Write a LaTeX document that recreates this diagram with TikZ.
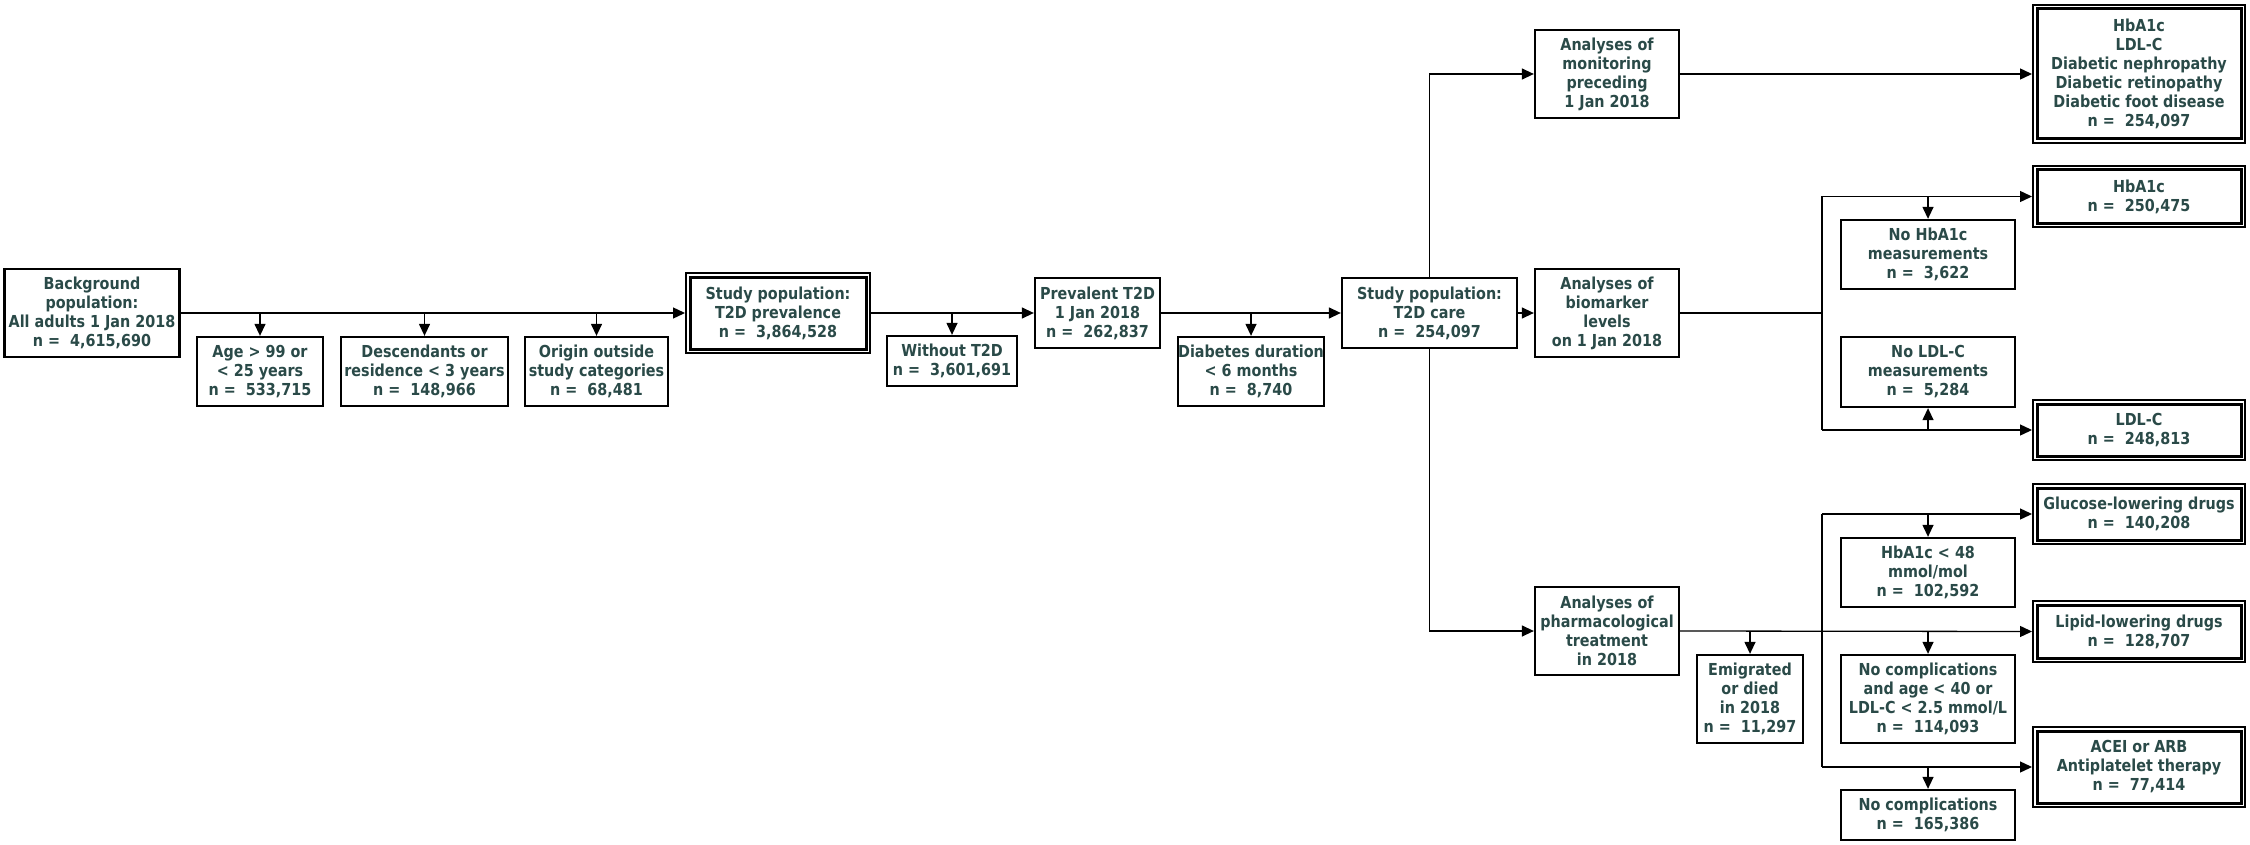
\documentclass[tikz,border=0pt]{standalone}
\usepackage{fontspec}
\setmainfont{DejaVu Sans}[BoldFont={DejaVu Sans Bold},BoldFeatures={FakeStretch=0.87}]
\usetikzlibrary{arrows.meta}
\definecolor{txt}{RGB}{42,74,72}
\begin{document}
\begin{tikzpicture}[x=1pt,y=-1pt,
  box/.style={draw=black,line width=2.3pt,fill=white,align=center,inner sep=0pt,
    font=\fontsize{16.5}{19}\selectfont\bfseries,text=txt},
  dbox/.style={box,line width=2pt},
  conn/.style={line width=1.3pt},
  arr/.style={conn,-{Triangle[length=12pt,width=11pt]}},
  inner/.style={line width=3pt}]
\useasboundingbox (0,0) rectangle (2250,845);
% left chain
\node[box,minimum width=175,minimum height=88] (bg) at (92,313) {Background\\population:\\All adults 1 Jan 2018\\n =\ \ 4,615,690};
\node[box,minimum width=126,minimum height=69] (age) at (260,371.5) {Age > 99 or\\< 25 years\\n =\ \ 533,715};
\node[box,minimum width=167,minimum height=69] (desc) at (424.5,371.5) {Descendants or\\residence < 3 years\\n =\ \ 148,966};
\node[box,minimum width=143,minimum height=69] (orig) at (596.5,371.5) {Origin outside\\study categories\\n =\ \ 68,481};
\node[dbox,minimum width=184,minimum height=80] (sp) at (778,313) {Study population:\\T2D prevalence\\n =\ \ 3,864,528};
\node[box,minimum width=130,minimum height=50] (wo) at (952,361) {Without T2D\\n =\ \ 3,601,691};
\node[box,minimum width=125,minimum height=70] (prev) at (1097.5,313) {Prevalent T2D\\1 Jan 2018\\n =\ \ 262,837};
\node[box,minimum width=146,minimum height=69] (dur) at (1251,371.5) {Diabetes duration\\< 6 months\\n =\ \ 8,740};
\node[box,minimum width=175,minimum height=70] (care) at (1429.5,313) {Study population:\\T2D care\\n =\ \ 254,097};
% analyses
\node[box,minimum width=144,minimum height=88] (mon) at (1607,74) {Analyses of\\monitoring\\preceding\\1 Jan 2018};
\node[box,minimum width=144,minimum height=88] (bio) at (1607,313) {Analyses of\\biomarker\\levels\\on 1 Jan 2018};
\node[box,minimum width=144,minimum height=88] (ph) at (1607,631) {Analyses of\\pharmacological\\treatment\\in 2018};
% right column
\node[dbox,minimum width=212,minimum height=138] (top) at (2139,74) {HbA1c\\LDL-C\\Diabetic nephropathy\\Diabetic retinopathy\\Diabetic foot disease\\n =\ \ 254,097};
\node[dbox,minimum width=212,minimum height=61] (hba) at (2139,196.5) {HbA1c\\n =\ \ 250,475};
\node[box,minimum width=174,minimum height=69] (nohba) at (1928,254.5) {No HbA1c\\measurements\\n =\ \ 3,622};
\node[box,minimum width=174,minimum height=70] (noldl) at (1928,372) {No LDL-C\\measurements\\n =\ \ 5,284};
\node[dbox,minimum width=212,minimum height=60] (ldl) at (2139,430) {LDL-C\\n =\ \ 248,813};
\node[dbox,minimum width=212,minimum height=60] (glu) at (2139,514) {Glucose-lowering drugs\\n =\ \ 140,208};
\node[box,minimum width=174,minimum height=69] (hb48) at (1928,572.5) {HbA1c < 48\\mmol/mol\\n =\ \ 102,592};
\node[dbox,minimum width=212,minimum height=61] (lip) at (2139,631.5) {Lipid-lowering drugs\\n =\ \ 128,707};
\node[box,minimum width=174,minimum height=88] (ncage) at (1928,699) {No complications\\and age < 40 or\\LDL-C < 2.5 mmol/L\\n =\ \ 114,093};
\node[dbox,minimum width=212,minimum height=80] (ace) at (2139,767) {ACEI or ARB\\Antiplatelet therapy\\n =\ \ 77,414};
\node[box,minimum width=174,minimum height=50] (nc) at (1928,815) {No complications\\n =\ \ 165,386};
\node[box,minimum width=106,minimum height=88] (emi) at (1750,699) {Emigrated\\or died\\in 2018\\n =\ \ 11,297};
% inner frames of double boxes
\foreach \n in {sp,top,hba,ldl,glu,lip,ace}
  \draw[inner] ([shift={(5pt,5pt)}]\n.south west) rectangle ([shift={(-5pt,-5pt)}]\n.north east);
% coordinates
\coordinate (bj) at (1822,313);
\coordinate (bt) at (1822,196.5);
\coordinate (bb) at (1822,430);
\coordinate (pt) at (1822,514);
\coordinate (pb) at (1822,767);
% connectors left
\draw[arr] (bg.east) -- (sp.west);
\draw[arr] (age.north |- bg.east) -- (age.north);
\draw[arr] (desc.north |- bg.east) -- (desc.north);
\draw[arr] (orig.north |- bg.east) -- (orig.north);
\draw[arr] (sp.east) -- (prev.west);
\draw[arr] (wo.north |- sp.east) -- (wo.north);
\draw[arr] (prev.east) -- (care.west);
\draw[arr] (dur.north |- prev.east) -- (dur.north);
% care to analyses
\draw[arr] (care.north) |- (mon.west);
\draw[arr] (care.east) -- (bio.west);
\draw[arr] (care.south) |- (ph.west);
% monitoring
\draw[arr] (mon.east) -- (top.west);
% biomarker
\draw[conn] (bio.east) -- (bj);
\draw[conn] (bt) -- (bb);
\draw[arr] (bt) -- (hba.west);
\draw[arr] (nohba.north |- bt) -- (nohba.north);
\draw[arr] (bb) -- (ldl.west);
\draw[arr] (noldl.south |- bb) -- (noldl.south);
% pharmacological
\draw[arr] (ph.east) -- (lip.west);
\draw[arr] (emi.north |- ph.east) -- (emi.north);
\draw[arr] (ncage.north |- ph.east) -- (ncage.north);
\draw[conn] (pt) -- (pb);
\draw[arr] (pt) -- (glu.west);
\draw[arr] (hb48.north |- pt) -- (hb48.north);
\draw[arr] (pb) -- (ace.west);
\draw[arr] (nc.north |- pb) -- (nc.north);
\end{tikzpicture}
\end{document}
